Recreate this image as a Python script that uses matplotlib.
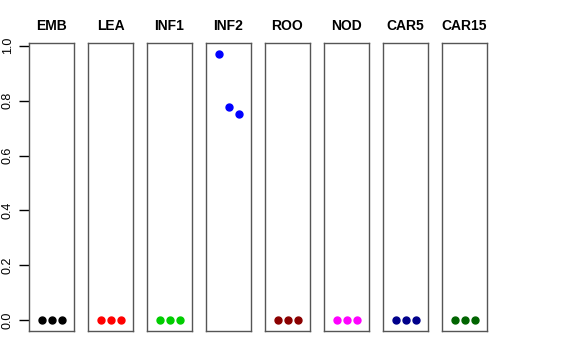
import matplotlib
matplotlib.use("Agg")
import matplotlib.pyplot as plt

# Данные панелей
tissues = ["EMB", "LEA", "INF1", "INF2", "ROO", "NOD", "CAR5", "CAR15"]
values = [
    [0.0, 0.0, 0.0],
    [0.0, 0.0, 0.0],
    [0.0, 0.0, 0.0],
    [0.971, 0.778, 0.753],
    [0.0, 0.0, 0.0],
    [0.0, 0.0, 0.0],
    [0.0, 0.0, 0.0],
    [0.0, 0.0, 0.0],
]
colors = ["black", "red", "#00CD00", "blue", "#8B0000", "magenta", "#00008B", "#006400"]
reps = [1, 2, 3]

plt.rcParams['font.family'] = ['Liberation Sans', 'DejaVu Sans']

fig = plt.figure(figsize=(5.76, 3.6), dpi=100)
W, H = 576.0, 360.0
ymax = max(max(v) for v in values)
pad = 0.04 * ymax

for i, name in enumerate(tissues):
    left = 29 + 59 * i
    ax = fig.add_axes([left / W, (H - 331) / H, 45 / W, 288 / H])
    ax.plot(reps, values[i], 'o', color=colors[i], markersize=5, clip_on=False)
    ax.set_xlim(-0.25, 4.25)
    ax.set_ylim(-pad, ymax + pad)
    ax.set_xticks([])
    for s in ax.spines.values():
        s.set_color('#555555')
        s.set_linewidth(1.0)
    ax.set_title(name, fontsize=10, fontweight='bold', pad=9)
    if i == 0:
        ax.set_yticks([0.0, 0.2, 0.4, 0.6, 0.8, 1.0])
        ax.set_yticklabels(["0.0", "0.2", "0.4", "0.6", "0.8", "1.0"],
                           rotation=90, va='center', fontsize=9)
        ax.tick_params(axis='y', length=7, width=1, pad=4)
    else:
        ax.set_yticks([])

fig.savefig("out.png", dpi=100)
